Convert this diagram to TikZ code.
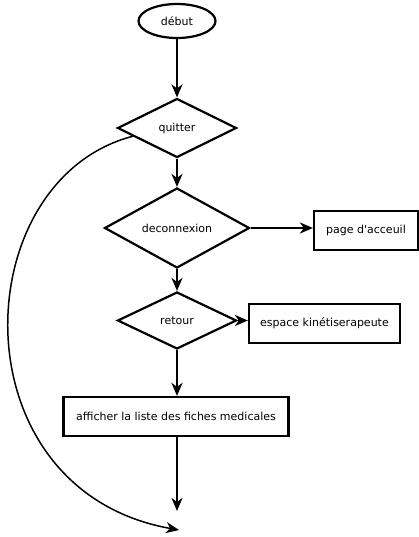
\documentclass[tikz,border=0pt]{standalone}
\usepackage{fontspec}
\setmainfont{DejaVu Sans}
\usetikzlibrary{shapes.geometric,arrows.meta,calc}
\begin{document}
\begin{tikzpicture}[x=1pt,y=-1pt,
  every node/.style={font=\fontsize{11}{12}\selectfont, line width=2.2pt, draw, inner sep=0pt},
  decision/.style={diamond},
  procbox/.style={rectangle},
  startnode/.style={ellipse},
  flow/.style={line width=2.2pt, -{Stealth[length=13pt,width=11pt,inset=4pt]}},
  thinflow/.style={line width=1.5pt, -{Stealth[length=13pt,width=11pt,inset=4pt]}}]
\useasboundingbox (0,0) rectangle (419,537);
\node[startnode, minimum width=77, minimum height=34] (debut) at (177,21) {début};
\node[decision, minimum width=119, minimum height=59] (quitter) at (177,128) {quitter};
\node[decision, minimum width=145, minimum height=80] (deco) at (177,228) {deconnexion};
\node[procbox, minimum width=104, minimum height=39] (page) at (366,230.5) {page d\textquotesingle acceuil};
\node[decision, minimum width=119, minimum height=57] (retour) at (177,320.5) {retour};
\node[procbox, minimum width=151, minimum height=39] (espace) at (324.5,323.5) {espace kinétiserapeute};
\node[procbox, minimum width=225, minimum height=39] (afficher) at (176,416.5) {afficher la liste des fiches medicales};
\coordinate (fin1) at (177,511);
\coordinate (fin2) at (179,530);
\draw[flow] (debut.south) -- (quitter.north);
\draw[flow] (quitter.south) -- (deco.north);
\draw[flow] (deco.east) -- (deco.east -| page.west);
\draw[flow] (deco.south) -- (retour.north);
\draw[flow] (retour.east) -- (retour.east -| espace.west);
\draw[flow] (retour.south) -- (retour.south |- afficher.north);
\draw[flow] (afficher.south -| fin1) -- (fin1);
\draw[thinflow] ($(quitter.west)!0.27!(quitter.south)$) .. controls (-35,180) and (-45,490) .. (fin2);
\end{tikzpicture}
\end{document}
